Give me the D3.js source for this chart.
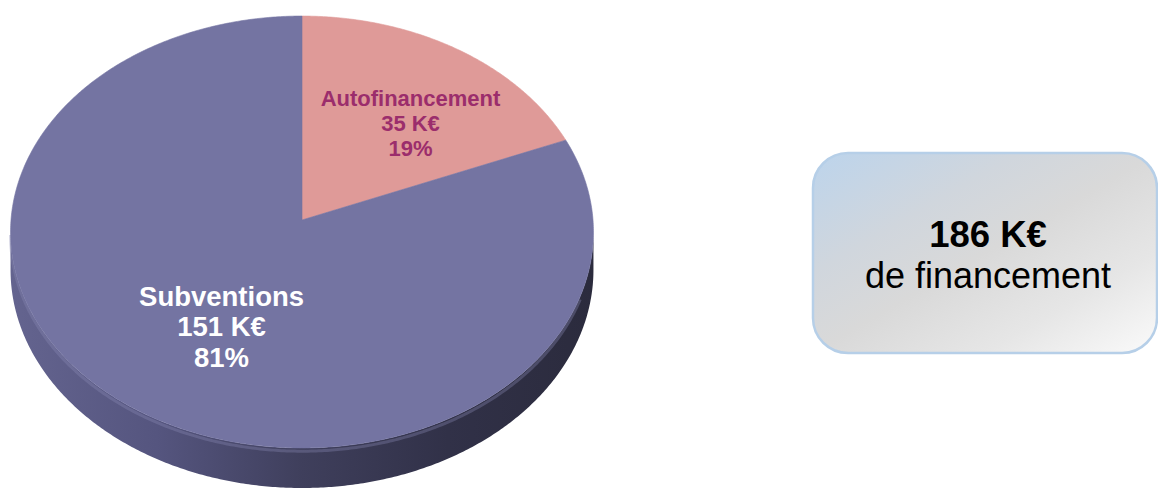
<!DOCTYPE html>
<html>
<head>
<meta charset="utf-8">
<script src="https://cdn.jsdelivr.net/npm/d3@7"></script>
<style>
  html, body { margin: 0; padding: 0; background: #ffffff; }
  svg { display: block; }
  text { font-family: "Liberation Sans", Arial, sans-serif; }
</style>
</head>
<body>
<svg id="chart" width="1158" height="488"></svg>
<script>
// ---- data ----
const categories = ["Autofinancement", "Subventions"];
const values = [35, 151];
const unit = "K€";
const totalCaption = "de financement";

// ---- style ----
const faceColors = ["#df9a98", "#7474a2"];
const labelColors = ["#9b2d6c", "#ffffff"];
const labelSizes = [22, 27.5];
const labelLineGap = [25, 30.5];
const labelPlacement = [ {r: 0.60, shift: 0.10}, {r: 0.55, shift: -0.08} ];

const W = 1158, H = 488;
const svg = d3.select("#chart");
const defs = svg.append("defs");

// perspective projection of a tilted disc
const P = { cx: 302, cy: 220, A: 291, B: 215.3, k: 0.0556, D: 37.8 };
function project(theta, r, h) {
  const u = r * Math.sin(theta), v = r * Math.cos(theta);
  const den = 1 + P.k * v;
  return [P.cx + P.A * u / den, P.cy - P.B * v / den + h * P.D / den];
}

const pie = d3.pie().sort(null).startAngle(0).endAngle(2 * Math.PI);
const arcs = pie(values);
const total = d3.sum(values);

function rimPoints(a0, a1, h) {
  const n = Math.max(2, Math.ceil((a1 - a0) / (Math.PI / 360)));
  return d3.range(n + 1).map(i => project(a0 + (a1 - a0) * i / n, 1, h));
}
const line = d3.line();

// side wall gradient
const wg = defs.append("linearGradient").attr("id", "wallGrad")
  .attr("gradientUnits", "userSpaceOnUse")
  .attr("x1", P.cx - P.A).attr("y1", 0).attr("x2", P.cx + P.A).attr("y2", 0);
[[0, "#64648f"], [0.25, "#55557f"], [0.5, "#3f3f5c"], [0.75, "#313148"], [1, "#2b2b3d"]]
  .forEach(s => wg.append("stop").attr("offset", s[0]).attr("stop-color", s[1]));

// visible side wall
const tS = Math.acos(-P.k), tE = 2 * Math.PI - Math.acos(-P.k);
const gWall = svg.append("g");
arcs.forEach((a, i) => {
  const a0 = Math.max(a.startAngle, tS), a1 = Math.min(a.endAngle, tE);
  if (a1 <= a0) return;
  const top = rimPoints(a0, a1, 0);
  const bot = rimPoints(a0, a1, 1).reverse();
  gWall.append("path")
    .attr("d", line(top.concat(bot)) + "Z")
    .attr("fill", i === 1 ? "url(#wallGrad)" : d3.color(faceColors[i]).darker(1.2));
});
// soft highlight on the upper lip of the wall
gWall.append("path")
  .attr("d", line(rimPoints(tS + 0.3, tE, 0.08)))
  .attr("fill", "none").attr("stroke", "#8a8ab5").attr("stroke-opacity", 0.35)
  .attr("stroke-width", 3);

// top faces
const gFace = svg.append("g");
arcs.forEach((a, i) => {
  const pts = [project(0, 0, 0)].concat(rimPoints(a.startAngle, a.endAngle, 0));
  gFace.append("path")
    .attr("d", line(pts) + "Z")
    .attr("fill", faceColors[i])
    .attr("stroke", faceColors[i]).attr("stroke-width", 0.6);
});

// labels
const gLab = svg.append("g");
arcs.forEach((a, i) => {
  const mid = (a.startAngle + a.endAngle) / 2 + labelPlacement[i].shift;
  const [x, y] = project(mid, labelPlacement[i].r, 0);
  const pct = Math.round(100 * values[i] / total) + "%";
  const lines = [categories[i], values[i] + " " + unit, pct];
  const gap = labelLineGap[i];
  const t = gLab.append("text")
    .attr("text-anchor", "middle")
    .attr("font-weight", "bold")
    .attr("font-size", labelSizes[i])
    .attr("fill", labelColors[i]);
  lines.forEach((s, j) => {
    t.append("tspan").attr("x", x)
      .attr("y", y + (j - 1) * gap + labelSizes[i] * 0.36)
      .text(s);
  });
});

// total box
const box = { x: 813, y: 153, w: 344, h: 200, r: 35 };
const bg = defs.append("linearGradient").attr("id", "boxGrad")
  .attr("x1", 0).attr("y1", 0).attr("x2", 1).attr("y2", 1);
[[0, "#bcd4ec"], [0.3, "#d0d6dd"], [0.5, "#d9d9d9"], [0.75, "#e6e6e6"], [1, "#fafafa"]]
  .forEach(s => bg.append("stop").attr("offset", s[0]).attr("stop-color", s[1]));
svg.append("rect")
  .attr("x", box.x).attr("y", box.y).attr("width", box.w).attr("height", box.h)
  .attr("rx", box.r).attr("ry", box.r)
  .attr("fill", "url(#boxGrad)")
  .attr("stroke", "#b6cfe8").attr("stroke-width", 2.5);
const bx = box.x + box.w / 2 + 3;
svg.append("text").attr("x", bx).attr("y", 247)
  .attr("text-anchor", "middle").attr("font-weight", "bold").attr("font-size", 36.5)
  .attr("fill", "#000").text(total + " " + unit);
svg.append("text").attr("x", bx).attr("y", 288)
  .attr("text-anchor", "middle").attr("font-size", 36)
  .attr("fill", "#000").text(totalCaption);
</script>
</body>
</html>
